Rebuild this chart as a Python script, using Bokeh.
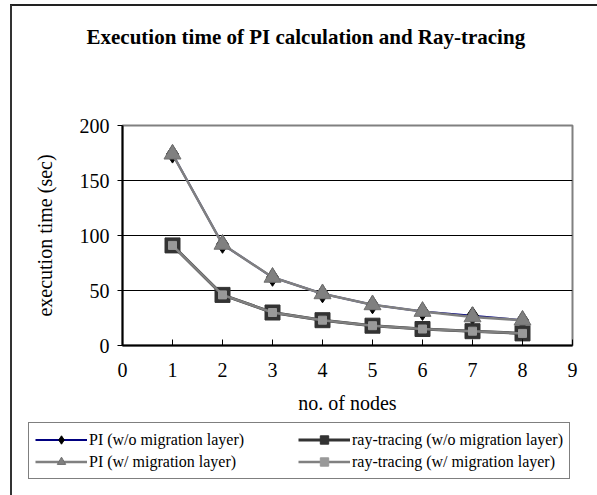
from bokeh.plotting import figure
from bokeh.models import Legend, LegendItem, Label, FixedTicker, Range1d
from bokeh.embed import file_html
from bokeh.resources import INLINE

nodes = [1, 2, 3, 4, 5, 6, 7, 8]
pi_wo = [174, 92, 62, 47, 37, 31, 27, 23]
pi_w = [174, 92, 62, 47, 37, 31, 26, 23]
ray_wo = [91, 46, 30, 23, 18, 15, 13, 11]
ray_w = [91, 46, 30, 23, 18, 15, 13, 11]
x_ticks = [0, 1, 2, 3, 4, 5, 6, 7, 8, 9]
y_ticks = [0, 50, 100, 150, 200]
title_text = "Execution time of PI calculation and Ray-tracing"
x_label = "no. of nodes"
y_label = "execution time (sec)"
labels = ["PI (w/o migration layer)", "PI (w/ migration layer)",
          "ray-tracing (w/o migration layer)", "ray-tracing (w/ migration layer)"]

FONT = "Liberation Serif"
W = 597
H_TITLE = 60
H_MAIN = 356
H_LEG = 495 - H_TITLE - H_MAIN

BG_TOP = ("linear-gradient(#333333,#333333) 10px 5px / 2px 100% no-repeat, "
          "linear-gradient(#222222,#222222) 10px 4px / 100% 2px no-repeat, white")
BG_SIDE = "linear-gradient(#333333,#333333) 10px 0px / 2px 100% no-repeat, white"

# title panel
t = figure(width=W, height=H_TITLE, x_range=Range1d(0, 1), y_range=Range1d(0, 1),
           output_backend="svg", toolbar_location=None,
           x_axis_type=None, y_axis_type=None, min_border=0)
t.styles = {"background": BG_TOP}
t.border_fill_color = None
t.background_fill_color = None
t.outline_line_color = None
t.grid.visible = False
t.add_layout(Label(x=86, y=H_TITLE - 36, x_units="screen", y_units="screen", text=title_text,
                   text_font=FONT, text_font_size="21px", text_font_style="bold",
                   text_align="left", text_baseline="alphabetic", text_color="black"))

# main chart
p = figure(width=W, height=H_MAIN, x_range=Range1d(0, 9), y_range=Range1d(0, 200),
           output_backend="svg", toolbar_location=None,
           min_border_left=122, min_border_right=25, min_border_top=125 - H_TITLE,
           min_border_bottom=H_MAIN - (125 - H_TITLE) - 220)
p.styles = {"background": BG_SIDE}
p.border_fill_color = None
p.outline_line_color = "#808080"
p.outline_line_width = 2
p.background_fill_color = "white"

p.xgrid.visible = False
p.ygrid.grid_line_color = "black"
p.ygrid.grid_line_width = 1
p.ygrid.ticker = FixedTicker(ticks=y_ticks)

for ax in (p.xaxis[0], p.yaxis[0]):
    ax.axis_line_color = "black"
    ax.axis_line_width = 2
    ax.major_tick_line_color = "black"
    ax.major_tick_line_width = 1
    ax.minor_tick_line_color = None
    ax.major_label_text_font = FONT
    ax.major_label_text_font_size = "20px"
    ax.major_label_text_color = "black"
    ax.axis_label_text_font = FONT
    ax.axis_label_text_font_size = "20px"
    ax.axis_label_text_font_style = "normal"
    ax.axis_label_text_color = "black"

p.xaxis.ticker = FixedTicker(ticks=x_ticks)
p.xaxis.major_tick_in = 6
p.xaxis.major_tick_out = 0
p.xaxis.major_label_standoff = 17
p.xaxis.axis_label = x_label
p.xaxis.axis_label_standoff = 12

p.yaxis.ticker = FixedTicker(ticks=y_ticks)
p.yaxis.major_tick_in = 0
p.yaxis.major_tick_out = 5
p.yaxis.major_label_standoff = 8
p.yaxis.axis_label = y_label
p.yaxis.axis_label_standoff = 21


def add_series(fig, xs, ys1, ys2, ys3, ys4):
    l1 = fig.line(xs, ys1, line_color="#000080", line_width=2)
    s1 = fig.scatter(xs, ys1, marker="diamond", size=18, fill_color="black", line_color="black")
    l2 = fig.line(xs, ys2, line_color="#333333", line_width=3)
    s2 = fig.scatter(xs, ys2, marker="square", size=15, fill_color="#333333", line_color="#333333")
    l3 = fig.line(xs, ys3, line_color="#808080", line_width=2.5)
    s3 = fig.scatter(xs, ys3, marker="triangle", size=17, fill_color="#808080", line_color="#707070")
    l4 = fig.line(xs, ys4, line_color="#808080", line_width=2.5)
    s4 = fig.scatter(xs, ys4, marker="square", size=8, fill_color="#999999", line_color="#999999")
    return {"pi_wo": (l1, s1), "ray_wo": (l2, s2), "pi_w": (l3, s3), "ray_w": (l4, s4)}


add_series(p, nodes, pi_wo, ray_wo, pi_w, ray_w)

# legend panel (same series styles; data kept outside the visible range)
q = figure(width=W, height=H_LEG, x_range=Range1d(100, 101), y_range=Range1d(1000, 1001),
           output_backend="svg", toolbar_location=None,
           x_axis_type=None, y_axis_type=None, min_border=0)
q.styles = {"background": BG_SIDE}
q.border_fill_color = None
q.background_fill_color = None
q.outline_line_color = None
q.grid.visible = False
rs = add_series(q, nodes, pi_wo, ray_wo, pi_w, ray_w)
order = ["pi_wo", "pi_w", "ray_wo", "ray_w"]

legend = Legend(items=[LegendItem(label=labels[i], renderers=list(rs[k])) for i, k in enumerate(order)],
                location=(28, 16), ncols=2,
                glyph_width=52, glyph_height=21, label_standoff=2, label_width=208,
                spacing=1, padding=6, margin=0,
                label_text_font=FONT, label_text_font_size="16px", label_text_color="black",
                border_line_color="black", border_line_width=1,
                background_fill_color="white", background_fill_alpha=1.0)
q.add_layout(legend, "center")

open("out.html", "w").write(file_html([t, p, q], INLINE))
